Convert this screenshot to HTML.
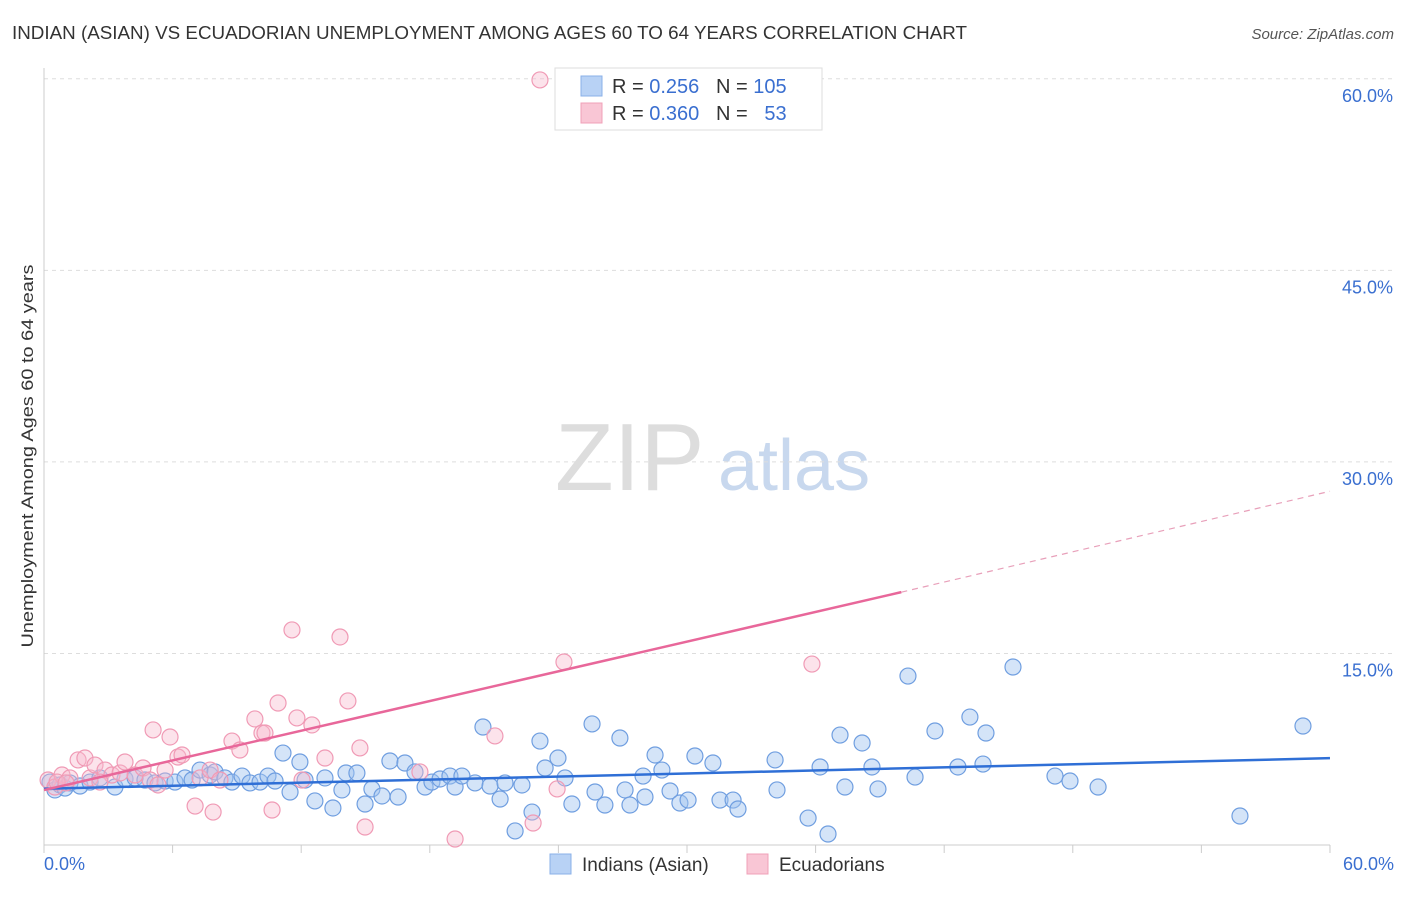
<!DOCTYPE html>
<html><head><meta charset="utf-8"><style>
body{margin:0;background:#fff;font-family:"Liberation Sans",sans-serif;}
svg text{font-family:"Liberation Sans",sans-serif;}
</style></head><body>
<svg id="chart" width="1406" height="892">
<text x="12" y="39" font-size="18" fill="#333" textLength="955" lengthAdjust="spacingAndGlyphs">INDIAN (ASIAN) VS ECUADORIAN UNEMPLOYMENT AMONG AGES 60 TO 64 YEARS CORRELATION CHART</text>
<text x="1394" y="39" font-size="15" fill="#555" font-style="italic" text-anchor="end">Source: ZipAtlas.com</text>
<text x="33" y="456" font-size="17" fill="#333" text-anchor="middle" textLength="383" lengthAdjust="spacingAndGlyphs" transform="rotate(-90 33 456)">Unemployment Among Ages 60 to 64 years</text>
<text x="555" y="490" font-size="96" fill="#ddd" font-family="Liberation Serif">ZIP</text>
<text x="718" y="490" font-size="72" fill="#c8d8ee">atlas</text>
<g id="grid"></g><g id="axes"></g><g id="pts"></g><g id="trends"></g>
<g>
<rect x="555" y="68" width="267" height="62" fill="#fff" stroke="#ddd"/>
<rect x="581" y="76" width="21" height="20" fill="#b8d2f5" stroke="#8ab0e8"/>
<rect x="581" y="103" width="21" height="20" fill="#f9c6d5" stroke="#f0a0b8"/>
<text x="612" y="93" font-size="20" fill="#333">R = <tspan fill="#3a6fd0">0.256</tspan>&#160;&#160;&#160;N = <tspan fill="#3a6fd0">105</tspan></text>
<text x="612" y="120" font-size="20" fill="#333">R = <tspan fill="#3a6fd0">0.360</tspan>&#160;&#160;&#160;N = <tspan fill="#3a6fd0">&#160;&#160;53</tspan></text>
</g>
<g>
<rect x="550" y="854" width="21" height="20" fill="#b8d2f5" stroke="#8ab0e8"/>
<text x="582" y="871" font-size="19" fill="#333">Indians (Asian)</text>
<rect x="747" y="854" width="21" height="20" fill="#f9c6d5" stroke="#f0a0b8"/>
<text x="779" y="871" font-size="19" fill="#333">Ecuadorians</text>
</g>
</svg>
<script>
const yTicks=[15,30,45,60];
const xTickLabels=["0.0%","60.0%"];
const bluePx=[[50,782],[55,790],[60,785],[65,788],[70,783],[80,786],[90,782],[100,778],[115,787],[125,779],[135,778],[145,780],[155,783],[165,781],[175,782],[185,778],[192,780],[200,770],[210,775],[215,772],[225,778],[232,782],[242,776],[250,783],[260,782],[268,776],[275,781],[283,753],[290,792],[300,762],[305,780],[315,801],[325,778],[333,808],[342,790],[346,773],[357,773],[365,804],[372,789],[382,796],[390,761],[398,797],[405,763],[415,772],[425,787],[432,782],[440,779],[450,776],[455,787],[462,776],[475,783],[483,727],[490,786],[500,799],[505,783],[515,831],[522,785],[532,812],[540,741],[545,768],[558,758],[565,778],[572,804],[592,724],[595,792],[605,805],[620,738],[625,790],[630,805],[643,776],[645,797],[655,755],[662,770],[670,791],[680,803],[688,800],[695,756],[713,763],[720,800],[733,800],[738,809],[775,760],[777,790],[808,818],[820,767],[828,834],[840,735],[845,787],[862,743],[872,767],[878,789],[908,676],[915,777],[935,731],[958,767],[970,717],[983,764],[986,733],[1013,667],[1055,776],[1070,781],[1098,787],[1240,816],[1303,726]];
const pinkPx=[[48,780],[55,787],[62,775],[70,778],[78,760],[85,758],[90,778],[95,765],[105,770],[112,775],[120,773],[125,762],[135,775],[143,768],[150,780],[153,730],[158,785],[165,770],[170,737],[178,757],[182,755],[195,806],[200,778],[210,770],[213,812],[220,780],[232,741],[240,750],[255,719],[262,733],[265,733],[272,810],[278,703],[292,630],[297,718],[302,780],[312,725],[325,758],[340,637],[348,701],[360,748],[365,827],[420,772],[455,839],[495,736],[533,823],[557,789],[564,662],[812,664],[540,80],[57,782],[66,783],[100,782]];
const blueX=bluePx.map(p=>+((p[0]-44)/21.433).toFixed(2));
const blueY=bluePx.map(p=>+((845-p[1])/12.77).toFixed(2));
const pinkX=pinkPx.map(p=>+((p[0]-44)/21.433).toFixed(2));
const pinkY=pinkPx.map(p=>+((845-p[1])/12.77).toFixed(2));
const blueTrend=[4.4,6.8];
const pinkTrend=[4.3,19.8,27.7];
const X=v=>44+v*21.433, Y=v=>845-v*12.77;
const NS="http://www.w3.org/2000/svg";
function mk(tag,attrs,parent){const e=document.createElementNS(NS,tag);for(const k in attrs)e.setAttribute(k,attrs[k]);document.getElementById(parent).appendChild(e);return e;}
yTicks.forEach(t=>{
 const l=mk('line',{x1:44,x2:1394,y1:Y(t),y2:Y(t),stroke:'#ddd','stroke-dasharray':'4,4'},'grid');
 
 
 const tx=mk('text',{x:1393,y:Y(t)+23,'font-size':18,fill:'#3a6fd0','text-anchor':'end'},'grid');tx.textContent=t.toFixed(1)+'%';
 
 
});
const ax=mk('line',{x1:44,x2:44,y1:68,y2:845,stroke:'#ccc'},'axes');


const bx=mk('line',{x1:44,x2:1330,y1:845,y2:845,stroke:'#ccc'},'axes');


for(let i=0;i<=10;i++){const t=mk('line',{x1:X(i*6),x2:X(i*6),y1:845,y2:853,stroke:'#ccc'},'axes');
 
 }
[[0,'start',44],[60,'end',1394]].forEach((d,i)=>{const t=mk('text',{x:d[2],y:870,'font-size':18,fill:'#3a6fd0','text-anchor':d[1]},'axes');t.textContent=xTickLabels[i];
 
 });
blueX.forEach((x,i)=>{const c=mk('circle',{cx:X(x),cy:Y(blueY[i]),r:8,fill:'rgba(160,195,240,0.45)',stroke:'#6f9ee0','stroke-width':1.2},'pts');
 
 });
pinkX.forEach((x,i)=>{const c=mk('circle',{cx:X(x),cy:Y(pinkY[i]),r:8,fill:'rgba(248,185,205,0.4)',stroke:'#f09ab5','stroke-width':1.2},'pts');
 
 });
const bt=mk('line',{x1:X(0),y1:Y(blueTrend[0]),x2:X(60),y2:Y(blueTrend[1]),stroke:'#2f6fd6','stroke-width':2.5},'trends');


const pt=mk('line',{x1:X(0),y1:Y(pinkTrend[0]),x2:X(40),y2:Y(pinkTrend[1]),stroke:'#e8679a','stroke-width':2.5},'trends');


const pd=mk('line',{x1:X(40),y1:Y(pinkTrend[1]),x2:X(60),y2:Y(pinkTrend[2]),stroke:'#e8a0ba','stroke-width':1.2,'stroke-dasharray':'6,5'},'trends');


</script>
</body></html>
